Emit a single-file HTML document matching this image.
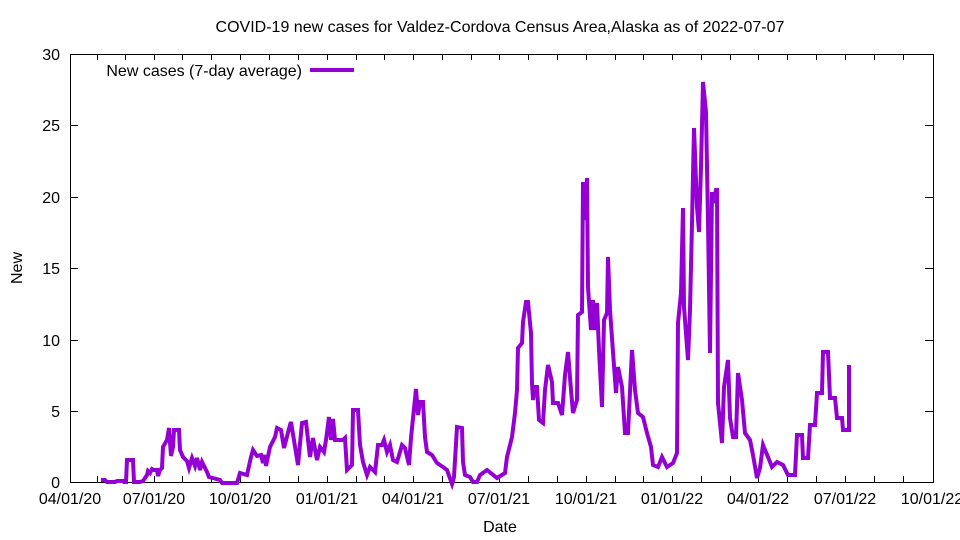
<!DOCTYPE html>
<html><head><meta charset="utf-8"><style>
html,body{margin:0;padding:0;background:#fff}
svg{display:block}
text{font-family:"Liberation Sans",Arial,sans-serif;font-size:16px;fill:#000}
</style></head><body>
<svg width="960" height="540" viewBox="0 0 960 540" xmlns="http://www.w3.org/2000/svg">
<rect width="960" height="540" fill="#fff"/>
<text x="500" y="32" text-anchor="middle" font-size="15">COVID-19 new cases for Valdez-Cordova Census Area,Alaska as of 2022-07-07</text>
<g stroke="#000" stroke-width="1" fill="none">
<rect x="70.5" y="54.5" width="863" height="428"/>
<path d="M70,411.5h8M933,411.5h-8M70,340.5h8M933,340.5h-8M70,268.5h8M933,268.5h-8M70,197.5h8M933,197.5h-8M70,125.5h8M933,125.5h-8"/>
<path id="xt" d="M97.5,482v-6M125.5,482v-6M154.5,482v-6M182.5,482v-6M211.5,482v-6M240.5,482v-6M269.5,482v-6M298.5,482v-6M327.5,482v-6M356.5,482v-6M384.5,482v-6M413.5,482v-6M442.5,482v-6M471.5,482v-6M499.5,482v-6M528.5,482v-6M557.5,482v-6M586.5,482v-6M615.5,482v-6M643.5,482v-6M672.5,482v-6M701.5,482v-6M730.5,482v-6M758.5,482v-6M787.5,482v-6M816.5,482v-6M845.5,482v-6M874.5,482v-6M903.5,482v-6"/>
<path d="M97.5,54v6M125.5,54v6M154.5,54v6M182.5,54v6M211.5,54v6M240.5,54v6M269.5,54v6M298.5,54v6M327.5,54v6M356.5,54v6M384.5,54v6M413.5,54v6M442.5,54v6M471.5,54v6M499.5,54v6M528.5,54v6M557.5,54v6M586.5,54v6M615.5,54v6M643.5,54v6M672.5,54v6M701.5,54v6M730.5,54v6M758.5,54v6M787.5,54v6M816.5,54v6M845.5,54v6M874.5,54v6M903.5,54v6"/>
</g>
<g text-anchor="end">
<text x="60" y="488">0</text><text x="60" y="417">5</text><text x="60" y="346">10</text><text x="60" y="274">15</text><text x="60" y="203">20</text><text x="60" y="131">25</text><text x="60" y="60">30</text>
</g>
<g text-anchor="middle">
<text x="70" y="504">04/01/20</text><text x="154" y="504">07/01/20</text><text x="240" y="504">10/01/20</text><text x="327" y="504">01/01/21</text><text x="413" y="504">04/01/21</text><text x="499" y="504">07/01/21</text><text x="586" y="504">10/01/21</text><text x="672" y="504">01/01/22</text><text x="758" y="504">04/01/22</text><text x="845" y="504">07/01/22</text><text x="932" y="504">10/01/22</text>
<text x="500" y="532">Date</text>
<text transform="translate(22,268) rotate(-90)">New</text>
</g>
<text x="302" y="76" text-anchor="end">New cases (7-day average)</text>
<line x1="310" y1="70" x2="354" y2="70" stroke="#9400d3" stroke-width="4"/>
<polyline fill="none" stroke="#9400d3" stroke-width="4" stroke-linejoin="miter" points="
101,480 105,480 107,482 115,482 117,481 123,481 124,482 126,482 127,460 133,460 134,482 140,482 143,481 145,478 147,475 148,471 150,473 152,469 154,470 157,470 158,476 160,470 162,468 163,447 167,440 169,428 171,456 173,447 174,430 179,430 180,450 183,457 187,461 189,468 192,458 195,466 197,458 200,470 202,462 207,472 209,477 220,480 222,483 237,483 240,473 247,475 251,457 253,450 257,456 261,455 263,463 265,455 266,466 270,447 275,437 277,428 281,430 284,448 290,425 291,422 298,465 302,423 306,422 310,457 313,438 317,460 320,447 324,452 326,440 329,417 331,440 333,419 335,440 343,440 345,438 347,470 352,465 353,410 358,410 360,445 363,462 367,475 370,467 375,472 378,445 382,445 384,440 387,452 390,445 393,460 397,462 402,445 405,448 409,465 411,438 412,428 416,389 418,415 420,402 423,402 425,437 427,452 432,455 437,463 443,467 447,470 452,484 454,477 457,427 462,428 463,462 465,475 470,477 473,482 477,482 480,475 487,470 497,478 505,473 507,457 512,437 515,413 517,390 518,348 522,343 523,322 526,302 528,302 531,333 532,383 533,400 535,387 537,387 539,420 543,423 545,390 548,365 552,382 553,403 558,403 562,415 565,375 568,352 571,390 573,413 577,400 578,315 582,312 583,182 585,220 587,178 588,287 591,330 593,300 595,330 597,303 599,350 602,407 604,320 607,313 608,257 610,310 613,352 616,393 618,367 622,387 625,433 628,433 632,350 635,390 638,413 643,417 647,433 651,447 653,465 658,467 662,457 667,467 673,463 677,453 678,323 681,293 683,208 684,307 688,360 690,310 692,223 694,128 697,207 699,232 701,167 703,82 706,112 708,222 710,353 712,192 713,203 716,190 717,190 718,403 722,443 724,387 728,360 730,418 733,437 736,437 738,373 742,400 745,433 750,440 753,455 757,478 760,468 763,445 768,457 772,467 777,462 783,465 788,475 795,475 797,435 802,435 803,458 808,458 810,425 815,425 817,393 822,393 823,352 828,352 830,398 835,398 837,418 842,418 843,430 849,430 849,365"/>
</svg>
</body></html>
